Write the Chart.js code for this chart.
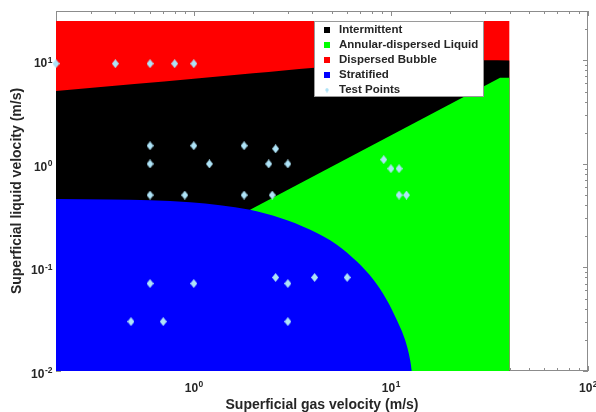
<!DOCTYPE html>
<html lang="en">
<head>
    <meta charset="UTF-8">
    <title>Flow Pattern Map</title>
    <script src="https://cdn.jsdelivr.net/npm/chart.js"></script>
    <style>
        html, body { margin: 0; padding: 0; background: #fff; }
        #wrap { width: 596px; height: 412px; }
    </style>
</head>
<body>

    <div id="wrap"><canvas id="flowMap" width="596" height="412"></canvas></div>

    <script>
        // Regime boundaries: superficial gas velocity (m/s) vs superficial liquid velocity (m/s)
        const bubbleGas = [0.2, 40];
        const bubbleLiq = [24, 24];

        const slugGas = [0.2, 0.5, 1, 2, 4.1, 10, 20, 30, 40];
        const slugLiq = [5.05, 5.9, 6.65, 7.5, 8.5, 9.2, 9.7, 10.05, 10.0];

        const annularGas = [1.93, 35.8, 40];
        const annularLiq = [0.36, 6.8, 6.8];

        const stratGas = [0.2, 0.38, 0.6, 0.96, 1.36, 1.93, 2.75, 3.9, 5.32, 6.72, 8.16, 9.53, 10.72, 11.8, 12.52, 12.77];
        const stratLiq = [0.458, 0.453, 0.446, 0.427, 0.399, 0.36, 0.30, 0.231, 0.166, 0.114, 0.076, 0.0486, 0.0311, 0.020, 0.0128, 0.01];

        // Test points
        const testGas = [0.2, 0.4, 0.6, 0.8, 1.0,
                         0.6, 1.0, 1.8, 2.6,
                         0.6, 1.2, 2.4, 3.0,
                         0.6, 0.9, 1.8, 2.5,
                         9.2, 10, 11, 11, 12,
                         0.6, 1.0, 2.6, 3.0, 4.1, 6.0,
                         0.48, 0.7, 3.0];
        const testLiq = [9.3, 9.3, 9.3, 9.3, 9.3,
                         1.5, 1.5, 1.5, 1.4,
                         1.0, 1.0, 1.0, 1.0,
                         0.5, 0.5, 0.5, 0.5,
                         1.1, 0.9, 0.9, 0.5, 0.5,
                         0.07, 0.07, 0.08, 0.07, 0.08, 0.08,
                         0.03, 0.03, 0.03];

        // Axis tick labels (10 raised to these exponents)
        const gasTicks = [1, 10, 100];
        const gasTickExp = ['0', '1', '2'];
        const liqTicks = [0.01, 0.1, 1, 10];
        const liqTickExp = ['-2', '-1', '0', '1'];

        const FONT = '"Liberation Sans", Arial, Helvetica, sans-serif';
        const TEXT = '#262626';
        const POINT_COLOR = '#aee3f7';

        function pares(xs, ys) {
            return xs.map((x, i) => ({ x: x, y: ys[i] }));
        }

        // diamond marker
        function rombo(w, h, color) {
            const c = document.createElement('canvas');
            c.width = w; c.height = h;
            const g = c.getContext('2d');
            g.fillStyle = color;
            g.beginPath();
            g.moveTo(w / 2, 0);
            g.lineTo(w, h / 2);
            g.lineTo(w / 2, h);
            g.lineTo(0, h / 2);
            g.closePath();
            g.fill();
            return c;
        }

        // 1-9 marks of each decade inside the scale range
        function marcasLog(scale) {
            const out = [];
            const e0 = Math.floor(Math.log10(scale.min));
            const e1 = Math.ceil(Math.log10(scale.max));
            for (let e = e0; e <= e1; e++) {
                for (let k = 1; k <= 9; k++) {
                    const v = k * Math.pow(10, e);
                    if (v >= scale.min * 0.999 && v <= scale.max * 1.001) out.push({ v: v, major: k === 1 });
                }
            }
            return out;
        }

        // axes box with inward ticks, drawn under the regions
        const marco = {
            id: 'marco',
            beforeDatasetsDraw(chart) {
                const { ctx, chartArea: a, scales } = chart;
                ctx.save();
                ctx.strokeStyle = '#8c8c8c';
                ctx.lineWidth = 1;
                ctx.strokeRect(Math.round(a.left) + 0.5, Math.round(a.top) + 0.5,
                               Math.round(a.width) - 1, Math.round(a.height) - 1);
                ctx.beginPath();
                marcasLog(scales.x).forEach(m => {
                    const px = Math.round(scales.x.getPixelForValue(m.v)) + 0.5;
                    const len = m.major ? 5 : 3;
                    ctx.moveTo(px, a.bottom); ctx.lineTo(px, a.bottom - len);
                    ctx.moveTo(px, a.top); ctx.lineTo(px, a.top + len);
                });
                marcasLog(scales.y).forEach(m => {
                    const py = Math.round(scales.y.getPixelForValue(m.v)) + 0.5;
                    const len = m.major ? 5 : 3;
                    ctx.moveTo(a.left, py); ctx.lineTo(a.left + len, py);
                    ctx.moveTo(a.right, py); ctx.lineTo(a.right - len, py);
                });
                ctx.stroke();
                ctx.restore();
            }
        };

        // decade labels "10" with a raised exponent
        const potencias = {
            id: 'potencias',
            afterDraw(chart) {
                const { ctx, chartArea: a, scales } = chart;
                const base = 'bold 12px ' + FONT;
                const sup = 'bold 8.5px ' + FONT;
                ctx.save();
                ctx.fillStyle = TEXT;
                ctx.textBaseline = 'alphabetic';
                ctx.textAlign = 'left';
                gasTicks.forEach((v, i) => {
                    const px = scales.x.getPixelForValue(v);
                    ctx.font = base;
                    const wb = ctx.measureText('10').width;
                    ctx.font = sup;
                    const we = ctx.measureText(gasTickExp[i]).width;
                    const x0 = px - (wb + we) / 2;
                    ctx.font = base;
                    ctx.fillText('10', x0, a.bottom + 21.3);
                    ctx.font = sup;
                    ctx.fillText(gasTickExp[i], x0 + wb + 0.5, a.bottom + 15.5);
                });
                liqTicks.forEach((v, i) => {
                    const py = scales.y.getPixelForValue(v);
                    ctx.font = sup;
                    const we = ctx.measureText(liqTickExp[i]).width;
                    ctx.font = base;
                    const wb = ctx.measureText('10').width;
                    const x1 = a.left - 3.5;
                    ctx.fillText('10', x1 - we - 0.5 - wb, py + 6.7);
                    ctx.font = sup;
                    ctx.fillText(liqTickExp[i], x1 - we, py + 2.3);
                });
                ctx.restore();
            }
        };

        // legend box inside the plot
        const leyenda = {
            id: 'leyenda',
            afterDatasetsDraw(chart) {
                const ctx = chart.ctx;
                const x0 = 314, y0 = 21, w = 170, h = 76, fila = 15;
                ctx.save();
                ctx.fillStyle = '#fff';
                ctx.fillRect(x0, y0, w, h);
                ctx.strokeStyle = '#9a9a9a';
                ctx.lineWidth = 1;
                ctx.strokeRect(x0 + 0.5, y0 + 0.5, w - 1, h - 1);
                ctx.font = 'bold 11.5px ' + FONT;
                ctx.textBaseline = 'middle';
                chart.data.datasets.forEach((ds, i) => {
                    const cy = y0 + 9 + i * fila;
                    if (ds.showLine === false) {
                        ctx.drawImage(rombo(4, 5, POINT_COLOR), 325, cy - 2.5);
                    } else {
                        ctx.fillStyle = ds.backgroundColor;
                        ctx.fillRect(324, cy - 3, 6, 6);
                    }
                    ctx.fillStyle = TEXT;
                    ctx.fillText(ds.label, 339, cy);
                });
                ctx.restore();
            }
        };

        Chart.defaults.font.family = FONT;

        const ctx = document.getElementById('flowMap').getContext('2d');
        const flowChart = new Chart(ctx, {
            type: 'line',
            data: {
                datasets: [
                    {
                        label: 'Intermittent',
                        data: pares(slugGas, slugLiq),
                        backgroundColor: '#000000',
                        borderWidth: 0,
                        pointRadius: 0,
                        fill: 'start',
                        cubicInterpolationMode: 'monotone',
                        order: 3
                    },
                    {
                        label: 'Annular-dispersed Liquid',
                        data: pares(annularGas, annularLiq),
                        backgroundColor: '#00ff00',
                        borderWidth: 0,
                        pointRadius: 0,
                        fill: 'start',
                        order: 2
                    },
                    {
                        label: 'Dispersed Bubble',
                        data: pares(bubbleGas, bubbleLiq),
                        backgroundColor: '#ff0000',
                        borderWidth: 0,
                        pointRadius: 0,
                        fill: 'start',
                        order: 4
                    },
                    {
                        label: 'Stratified',
                        data: pares(stratGas, stratLiq),
                        backgroundColor: '#0000ff',
                        borderWidth: 0,
                        pointRadius: 0,
                        fill: 'start',
                        cubicInterpolationMode: 'monotone',
                        order: 1
                    },
                    {
                        label: 'Test Points',
                        data: pares(testGas, testLiq),
                        showLine: false,
                        pointStyle: rombo(7, 9, POINT_COLOR),
                        pointRadius: 4,
                        clip: false,
                        order: 0
                    }
                ]
            },
            options: {
                responsive: false,
                animation: false,
                layout: { padding: { top: 11, right: 8, bottom: 0, left: 0 } },
                plugins: {
                    legend: { display: false },
                    tooltip: { enabled: false }
                },
                scales: {
                    x: {
                        type: 'logarithmic',
                        min: 0.2,
                        max: 100,
                        grid: { display: false, drawTicks: false },
                        border: { display: false },
                        ticks: { display: false },
                        title: {
                            display: true,
                            text: 'Superficial gas velocity (m/s)',
                            color: TEXT,
                            font: { size: 14, weight: 'bold' },
                            padding: { top: 0, bottom: -2 }
                        },
                        afterFit: function (s) {
                            s.height = 41;
                            s.paddingLeft = 0;
                            s.paddingRight = 0;
                        }
                    },
                    y: {
                        type: 'logarithmic',
                        min: 0.01,
                        max: 30,
                        grid: { display: false, drawTicks: false },
                        border: { display: false },
                        ticks: { display: false },
                        title: {
                            display: true,
                            text: 'Superficial liquid velocity (m/s)',
                            color: TEXT,
                            font: { size: 14, weight: 'bold' },
                            padding: { top: 8.5, bottom: 0 }
                        },
                        afterFit: function (s) {
                            s.width = 56;
                            s.paddingTop = 0;
                            s.paddingBottom = 0;
                        }
                    }
                }
            },
            plugins: [marco, potencias, leyenda]
        });
    </script>

</body>
</html>
